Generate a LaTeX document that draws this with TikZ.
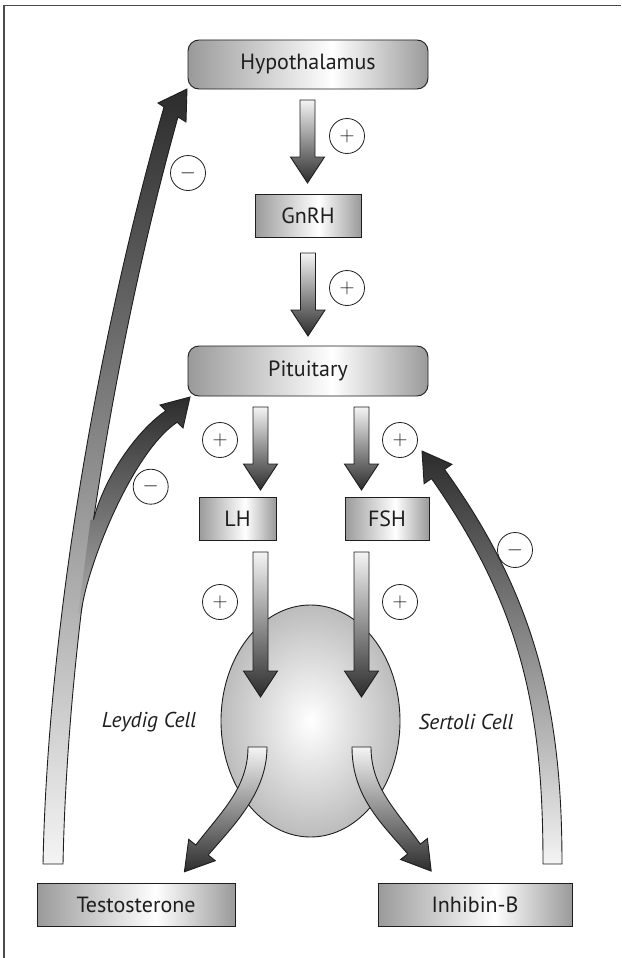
\documentclass[tikz,border=0pt]{standalone}
\usepackage{fontspec}
\setmainfont{PT Sans}
\usetikzlibrary{calc,shapes.geometric}
\definecolor{bxg}{HTML}{9A9A9A}
\definecolor{arl}{HTML}{F4F4F4}
\definecolor{ard}{HTML}{2C2C2C}
\definecolor{brbot}{HTML}{ADADAD}
\definecolor{cellout}{HTML}{BCBCBC}
\definecolor{ink}{HTML}{1E1E1E}
\pgfdeclarehorizontalshading{boxshade}{100bp}{color(0bp)=(bxg); color(25bp)=(bxg); color(55bp)=(white); color(75bp)=(bxg); color(100bp)=(bxg)}
\pgfdeclareradialshading{cellshade}{\pgfpoint{0bp}{0bp}}{color(0bp)=(white); color(25bp)=(cellout); color(50bp)=(cellout)}
\tikzset{
  lbl/.style={text=ink, font=\fontsize{22}{24}\selectfont},
  box/.style={lbl, draw=ink, line width=0.9pt, shade, shading=boxshade, inner sep=0pt, minimum height=43pt},
  rbox/.style={box, rounded corners=11pt, minimum height=49pt},
  sign/.style={circle, draw=ink, line width=0.8pt, minimum size=35pt, inner sep=0pt, text=ink, font=\fontsize{20}{20}\selectfont},
  arr/.style={draw=ink, line width=0.9pt, top color=arl, bottom color=ard},
  fbarr/.style={draw=ink, line width=0.9pt, top color=ard, bottom color=arl},
  brfill/.style={top color=ard, bottom color=brbot},
  edge/.style={draw=ink, line width=0.9pt},
  frameline/.style={draw=black!70, line width=1.3pt},
  cellnote/.style={lbl, font=\fontsize{21.5}{24}\selectfont\itshape}
}
\newcommand{\dnarr}[2]{%
  \path[arr] let \p1=#1, \p2=#2 in
  (\x2-7.5pt,\y1) -- (\x2+7.5pt,\y1) -- (\x2+7.5pt,\y2+26pt) -- (\x2+17pt,\y2+26pt)
  -- (\x2,\y2) -- (\x2-17pt,\y2+26pt) -- (\x2-7.5pt,\y2+26pt) -- cycle;}
\begin{document}
\begin{tikzpicture}[x=1pt,y=-1pt,line join=miter]
\useasboundingbox (0,0) rectangle (621,958);
\draw[frameline] (4,958) -- (4,5.5) -- (621,5.5);

% boxes
\node[rbox, minimum width=240pt] (hyp) at (308,64.5) {Hypothalamus};
\node[box, minimum width=106pt] (gnrh) at (308,215.5) {GnRH};
\node[rbox, minimum width=240pt, minimum height=50pt] (pit) at (308,371) {Pituitary};
\node[box, minimum width=77pt] (lh) at (237.5,518.5) {LH};
\node[box, minimum width=84pt] (fsh) at (387,518.5) {FSH};
\node[box, minimum width=198pt] (testo) at (136,904.5) {Testosterone};
\node[box, minimum width=194pt] (inhib) at (475,904.5) {Inhibin-B};

% cell
\node[ellipse, draw=ink, line width=0.9pt, shade, shading=cellshade, inner sep=0pt,
      minimum width=179pt, minimum height=232pt] (cell) at (310.5,721) {};
\node[cellnote] (leydig) at (149,722) {Leydig Cell};
\node[cellnote] (sertoli) at (466,722) {Sertoli Cell};

% straight arrows
\coordinate (a1s) at (307.5,100); \coordinate (a1e) at (307.5,183);
\coordinate (a2s) at (308,253);   \coordinate (a2e) at (308,336);
\coordinate (a3s) at (260.5,407); \coordinate (a3e) at (260.5,490);
\coordinate (a4s) at (361.5,407); \coordinate (a4e) at (361.5,490);
\coordinate (a5s) at (260.5,552); \coordinate (a5e) at (260.5,697);
\coordinate (a6s) at (361.5,552); \coordinate (a6e) at (361.5,697);
\dnarr{(a1s)}{(a1e)}
\dnarr{(a2s)}{(a2e)}
\dnarr{(a3s)}{(a3e)}
\dnarr{(a4s)}{(a4e)}
\dnarr{(a5s)}{(a5e)}
\dnarr{(a6s)}{(a6e)}

% output arrows from the cell
\path[arr] (248,747) -- (267,747) .. controls (267,792) and (235,824) .. (208.2,855)
  -- (215.3,860.7) -- (184.4,871.8) -- (188.7,839.3) -- (195.8,845)
  .. controls (221,812) and (248,788) .. (248,747) -- cycle;
\path[arr] (352,747) -- (371,747) .. controls (371,788) and (397,811) .. (420.3,844.1)
  -- (427.4,838.5) -- (431.2,871.1) -- (400.6,859.5) -- (407.7,853.9)
  .. controls (381,823) and (352,796) .. (352,747) -- cycle;

% long feedback arrow: testosterone -> hypothalamus
\path[fbarr] (43,864) .. controls (48,620) and (100,330) .. (164,107)
  -- (158,103) -- (187,89) -- (186,122) -- (178,117)
  .. controls (117,335) and (68,620) .. (63,864) -- cycle;
\path (63,864) .. controls (68,620) and (117,335) .. (178,117)
  coordinate[pos=0.45] (N) coordinate[pos=0.33] (P);
% branch: testosterone -> pituitary
\path[brfill] (N) .. controls ($(N)+(10,-40)$) and (135,432) .. (165.8,410.8)
  -- (160,405) -- (190,397) -- (183,428) -- (177.2,422.2)
  .. controls (132,452) and ($(P)+(5,-45)$) .. (P)
  -- ($(P)+(-3,0)$) -- ($(N)+(-3,0)$) -- cycle;
\path[edge] (N) .. controls ($(N)+(10,-40)$) and (135,432) .. (165.8,410.8)
  -- (160,405) -- (190,397) -- (183,428) -- (177.2,422.2)
  .. controls (132,452) and ($(P)+(5,-45)$) .. (P);

% long feedback arrow: inhibin-B -> FSH
\path[fbarr] (543,864) .. controls (543,714) and (523.5,609.6) .. (431.5,478.6)
  -- (424.1,483.7) -- (422,451) -- (451.9,464.3) -- (444.5,469.4)
  .. controls (538.1,599.2) and (562,714) .. (562,864) -- cycle;

% signs
\node[sign] (s1) at (347,136) {$+$};
\node[sign] (s2) at (347,288) {$+$};
\node[sign] (s3) at (220,440) {$+$};
\node[sign] (s4) at (400,440) {$+$};
\node[sign] (s5) at (220,602) {$+$};
\node[sign] (s6) at (400,602) {$+$};
\node[sign] (m1) at (188,173) {$-$};
\node[sign] (m2) at (150.7,486.7) {$-$};
\node[sign] (m3) at (515,550) {$-$};
\end{tikzpicture}
\end{document}
